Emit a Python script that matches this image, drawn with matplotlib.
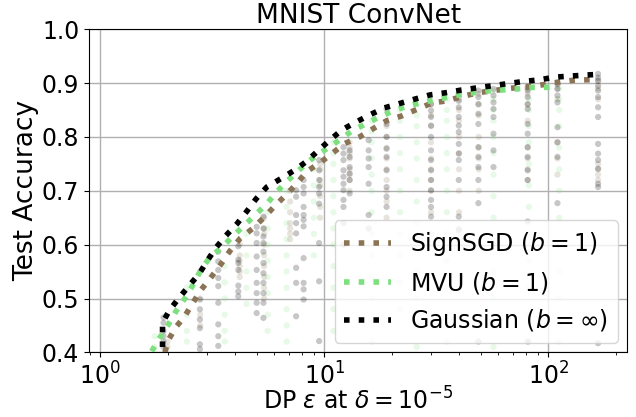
import matplotlib
matplotlib.use("Agg")
import matplotlib.pyplot as plt

# frontier curves (epsilon, test accuracy)
gauss_eps = [1.9, 1.9, 2.04, 2.25, 2.5, 2.77, 3.03, 3.3, 3.65, 4.09, 4.52, 4.97, 5.55,
             6.5, 7.5, 8.37, 9.43, 10.6, 12.0, 13.8, 16.0, 18.6, 21.7, 25.3, 29.7,
             34.8, 40.9, 48.0, 56.4, 66.1, 77.6, 91.4, 107, 126, 149, 165]
gauss_acc = [0.41, 0.455, 0.478, 0.501, 0.524, 0.546, 0.572, 0.595, 0.617, 0.639, 0.662, 0.685, 0.707,
             0.724, 0.740, 0.755, 0.775, 0.794, 0.813, 0.827, 0.841, 0.854, 0.862, 0.870, 0.878,
             0.882, 0.887, 0.891, 0.895, 0.899, 0.903, 0.906, 0.911, 0.913, 0.915, 0.916]

sign_eps = [1.95, 2.0, 2.18, 2.37, 2.58, 2.81, 3.11, 3.44, 3.81, 4.23, 4.8, 5.38, 6.03,
            6.75, 7.5, 8.37, 9.6, 10.9, 12.4, 14.4, 16.5, 19.0, 22.2, 25.9, 30.3,
            35.3, 41.2, 48.6, 57, 67, 79, 92, 108, 128, 149, 165]
sign_acc = [0.40, 0.420, 0.447, 0.465, 0.490, 0.515, 0.538, 0.562, 0.589, 0.612, 0.630, 0.650, 0.672,
            0.692, 0.712, 0.736, 0.752, 0.770, 0.788, 0.800, 0.815, 0.830, 0.839, 0.851, 0.863,
            0.867, 0.875, 0.882, 0.886, 0.890, 0.893, 0.896, 0.901, 0.905, 0.906, 0.907]

mvu_eps = [1.70, 1.84, 2.02, 2.18, 2.38, 2.58, 2.81, 3.11, 3.49, 3.94, 4.41, 4.95, 5.55,
           6.15, 6.88, 7.8, 8.8, 10.1, 11.6, 13.2, 15.3, 17.4, 20.3, 23.4, 27.3,
           32.3, 37.8, 44.3, 52.4, 61, 72.5, 85, 100, 110]
mvu_acc = [0.402, 0.426, 0.452, 0.476, 0.499, 0.523, 0.552, 0.578, 0.594, 0.617, 0.636, 0.656, 0.676,
           0.698, 0.719, 0.740, 0.759, 0.776, 0.793, 0.810, 0.824, 0.836, 0.848, 0.857, 0.864,
           0.870, 0.876, 0.881, 0.885, 0.887, 0.889, 0.892, 0.892, 0.893]

# individual runs (one column per privacy setting)
gauss_run_eps = [1.92, 2.79, 3.37, 4.14, 5.0, 5.36, 7.5, 8.1, 9.5, 12.2, 13.0, 15.8,
                 19.0, 30, 39.9, 48.8, 57, 81, 110, 167]
gauss_run_acc = [
    [0.465, 0.455, 0.44, 0.43, 0.42, 0.41],
    [0.498, 0.48, 0.461, 0.445, 0.415, 0.406],
    [0.587, 0.569, 0.553, 0.538, 0.523, 0.492, 0.452, 0.43, 0.412],
    [0.597, 0.572, 0.566, 0.553, 0.524, 0.513, 0.504],
    [0.633, 0.621, 0.603, 0.578, 0.553, 0.529, 0.510, 0.492, 0.473],
    [0.652, 0.630, 0.615, 0.603, 0.587, 0.566, 0.547, 0.529, 0.51, 0.492, 0.464],
    [0.701, 0.689, 0.655, 0.640, 0.621, 0.557, 0.529, 0.467],
    [0.72, 0.707, 0.695, 0.670, 0.655, 0.646, 0.634, 0.575, 0.529, 0.517, 0.498],
    [0.757, 0.738, 0.720, 0.707, 0.695, 0.676, 0.603, 0.532, 0.421],
    [0.781, 0.769, 0.757, 0.738, 0.726, 0.713, 0.701, 0.683, 0.67, 0.64, 0.60],
    [0.775, 0.763, 0.744, 0.732, 0.72, 0.695],
    [0.794, 0.775, 0.760, 0.744, 0.713, 0.655, 0.630],
    [0.852, 0.824, 0.8, 0.778, 0.763, 0.738, 0.707, 0.689, 0.67],
    [0.861, 0.849, 0.837, 0.821, 0.8, 0.775, 0.757, 0.738, 0.72, 0.701, 0.683, 0.670, 0.652],
    [0.880, 0.867, 0.855, 0.837, 0.821, 0.809, 0.787, 0.769, 0.757, 0.720, 0.652, 0.627],
    [0.886, 0.874, 0.861, 0.843, 0.824, 0.781, 0.763, 0.744, 0.720, 0.677, 0.42],
    [0.889, 0.877, 0.864, 0.852, 0.837, 0.806, 0.775, 0.744],
    [0.892, 0.886, 0.874, 0.861, 0.852, 0.824, 0.806, 0.781, 0.763, 0.738, 0.720, 0.643, 0.42],
    [0.898, 0.889, 0.877, 0.864, 0.818, 0.790, 0.763, 0.677],
    [0.917, 0.910, 0.904, 0.895, 0.886, 0.874, 0.855, 0.837, 0.787, 0.769, 0.757, 0.741,
     0.713, 0.707, 0.417],
]

sign_run_eps = [2.0, 2.8, 4.2, 5.4, 7.05, 9.6, 13.0, 19.0, 30, 40, 49, 81, 110, 167]
sign_run_acc = [
    [0.42, 0.41],
    [0.50, 0.47, 0.45],
    [0.60, 0.58, 0.57, 0.56, 0.55, 0.54],
    [0.65, 0.63, 0.62, 0.60, 0.58, 0.56, 0.54, 0.52, 0.50],
    [0.70, 0.68, 0.66, 0.64, 0.63, 0.62, 0.61],
    [0.75, 0.74, 0.72, 0.71, 0.69, 0.67, 0.65],
    [0.79, 0.78, 0.77, 0.76, 0.74, 0.73, 0.72, 0.70],
    [0.82, 0.80, 0.78, 0.76, 0.74, 0.72, 0.70, 0.68, 0.65],
    [0.86, 0.84, 0.82, 0.79, 0.76, 0.74, 0.72, 0.70, 0.66, 0.62],
    [0.87, 0.85, 0.83, 0.80, 0.77, 0.74, 0.70, 0.66, 0.63],
    [0.88, 0.86, 0.84, 0.80, 0.78, 0.76, 0.74, 0.70],
    [0.89, 0.88, 0.86, 0.83, 0.78, 0.76, 0.74, 0.72],
    [0.90, 0.89, 0.87, 0.79, 0.76, 0.73],
    [0.905, 0.89, 0.87, 0.75, 0.74, 0.73, 0.72],
]

mvu_run_eps = [1.75, 2.44, 3.6, 4.5, 5.6, 6.8, 9.0, 11.0, 16.3, 21.8, 25.9, 35.3, 57, 82, 112]
mvu_run_acc = [
    [0.41, 0.43],
    [0.52, 0.47, 0.44, 0.42],
    [0.56, 0.53, 0.50, 0.47, 0.44, 0.42],
    [0.62, 0.58, 0.55, 0.52, 0.49],
    [0.66, 0.63, 0.60, 0.57, 0.54, 0.51, 0.47, 0.44],
    [0.70, 0.67, 0.64, 0.61, 0.58, 0.55, 0.52, 0.48, 0.45, 0.42],
    [0.74, 0.71, 0.68, 0.65, 0.62, 0.58],
    [0.79, 0.77, 0.75, 0.72, 0.69, 0.66, 0.63, 0.60, 0.56, 0.52, 0.48, 0.44],
    [0.83, 0.81, 0.79, 0.76, 0.73, 0.70, 0.66, 0.62, 0.58, 0.54, 0.50, 0.46, 0.42],
    [0.85, 0.83, 0.80, 0.77, 0.74, 0.70, 0.66, 0.62, 0.58, 0.53, 0.48],
    [0.86, 0.84, 0.82, 0.79, 0.76, 0.72, 0.68, 0.64, 0.60, 0.55, 0.50, 0.45, 0.41],
    [0.87, 0.85, 0.83, 0.80, 0.77, 0.74, 0.70, 0.66, 0.62, 0.57, 0.52, 0.47, 0.42],
    [0.885, 0.87, 0.85, 0.83, 0.80, 0.77, 0.73, 0.69, 0.65, 0.60, 0.55, 0.50, 0.45, 0.41],
    [0.89, 0.87, 0.85, 0.82, 0.79, 0.75, 0.71, 0.67, 0.62, 0.57, 0.52, 0.47, 0.42],
    [0.89, 0.87, 0.85, 0.82, 0.78, 0.74, 0.70, 0.65, 0.60, 0.55, 0.50, 0.45, 0.42],
]

brown = '#8b7355'
green = '#7ddf7d'


def flatten(eps_cols, acc_cols):
    xs, ys = [], []
    for e, accs in zip(eps_cols, acc_cols):
        xs += [e] * len(accs)
        ys += accs
    return xs, ys


fig, ax = plt.subplots(figsize=(6.36, 4.17), dpi=100)
fig.subplots_adjust(left=0.140, right=0.986, top=0.930, bottom=0.155)

# faint scatter of all runs
x, y = flatten(sign_run_eps, sign_run_acc)
ax.scatter(x, y, s=20, color=brown, alpha=0.2, edgecolors='none', zorder=2)
x, y = flatten(mvu_run_eps, mvu_run_acc)
ax.scatter(x, y, s=20, color=green, alpha=0.18, edgecolors='none', zorder=2)
x, y = flatten(gauss_run_eps, gauss_run_acc)
ax.scatter(x, y, s=20, color='black', alpha=0.22, edgecolors='none', zorder=2)

# frontiers
ax.plot(sign_eps, sign_acc, ':', color=brown, lw=4, label='SignSGD ($b=1$)', zorder=3)
ax.plot(mvu_eps, mvu_acc, ':', color=green, lw=4, label='MVU ($b=1$)', zorder=3)
ax.plot(gauss_eps, gauss_acc, ':', color='black', lw=4, label=r'Gaussian ($b=\infty$)', zorder=3)

ax.set_xscale('log')
ax.set_xlim(0.893, 225)
ax.set_ylim(0.4, 1.0)
ax.grid(True, color='#b0b0b0', lw=1)
ax.set_axisbelow(True)
ax.tick_params(labelsize=17)
ax.set_xlabel(r'DP $\varepsilon$ at $\delta=10^{-5}$', fontsize=17, labelpad=-1)
ax.set_ylabel('Test Accuracy', fontsize=19, labelpad=2)
ax.set_title('MNIST ConvNet', fontsize=19, pad=3)
ax.legend(loc='lower right', fontsize=17, borderaxespad=0.4)

plt.savefig('out.png')
